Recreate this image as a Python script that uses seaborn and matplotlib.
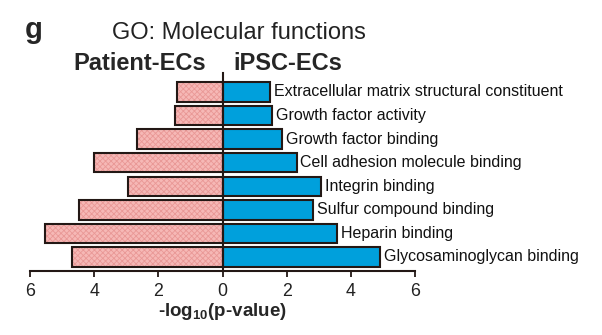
import matplotlib
matplotlib.use("Agg")
import matplotlib.pyplot as plt
import seaborn as sns
import pandas as pd
import numpy as np

categories = [
    "Extracellular matrix structural constituent",
    "Growth factor activity",
    "Growth factor binding",
    "Cell adhesion molecule binding",
    "Integrin binding",
    "Sulfur compound binding",
    "Heparin binding",
    "Glycosaminoglycan binding",
]
patient_ecs = [1.43, 1.47, 2.67, 4.01, 2.96, 4.46, 5.53, 4.69]
ipsc_ecs = [1.49, 1.54, 1.85, 2.31, 3.07, 2.81, 3.56, 4.92]
xticks = [-6, -4, -2, 0, 2, 4, 6]
xticklabels = ["6", "4", "2", "0", "2", "4", "6"]

sns.set_style("white")
plt.rcParams["font.family"] = ["Liberation Sans", "DejaVu Sans"]
plt.rcParams["hatch.linewidth"] = 0.6
plt.rcParams["mathtext.fontset"] = "custom"
plt.rcParams["mathtext.rm"] = "Liberation Sans:bold"
plt.rcParams["mathtext.it"] = "Liberation Sans:bold"
plt.rcParams["mathtext.default"] = "rm"

W, H = 602, 335
fig = plt.figure(figsize=(W / 100, H / 100), dpi=100)
ax = fig.add_axes([30 / W, 1 - 271 / H, (415 - 30) / W, (271 - 73) / H])

df = pd.DataFrame({"cat": categories,
                   "patient": [-v for v in patient_ecs],
                   "ipsc": ipsc_ecs})

edge = "#231815"
pink = "#f6b8b6"
blue = "#00a0dc"
bw = 0.82

# pink hatched fill
sns.barplot(data=df, x="patient", y="cat", orient="h", ax=ax, color=pink,
            saturation=1, width=bw, linewidth=0, edgecolor="#e99896",
            hatch="xxxxxx")
# dark outline for pink
sns.barplot(data=df, x="patient", y="cat", orient="h", ax=ax, fill=False,
            width=bw, linewidth=1.5, edgecolor=edge, color=edge)
# blue bars
sns.barplot(data=df, x="ipsc", y="cat", orient="h", ax=ax, color=blue,
            saturation=1, width=bw, linewidth=1.5, edgecolor=edge)

for i, (c, v) in enumerate(zip(categories, ipsc_ecs)):
    ax.text(v + 0.12, i, c, va="center", ha="left", fontsize=11.5,
            color="#111111")

ax.set_xlim(-6, 6)
ax.set_ylim(7.594, -0.806)
ax.set_xticks(xticks)
ax.set_xticklabels(xticklabels, fontsize=12.8, color="#222222")
ax.set_yticks([])
ax.set_ylabel("")
ax.set_xlabel("-log$_{10}$(p-value)", fontsize=13.5, fontweight="bold", labelpad=1)

for s in ["top", "right"]:
    ax.spines[s].set_visible(False)
ax.spines["left"].set_position(("data", 0))
ax.spines["left"].set_color(edge)
ax.spines["left"].set_linewidth(1.5)
ax.spines["bottom"].set_color(edge)
ax.spines["bottom"].set_linewidth(1.5)
ax.tick_params(axis="x", direction="out", length=4, width=1.3, color=edge,
               bottom=True, pad=4.5)

fig.text(25 / W, 1 - 30 / H, "g", fontsize=21, fontweight="bold", va="center", ha="left")
fig.text(112 / W, 1 - 33 / H, "GO: Molecular functions", fontsize=17,
         va="center", ha="left", color="#222222")
fig.text(73 / W, 1 - 63 / H, "Patient-ECs", fontsize=17, fontweight="bold",
         va="center", ha="left")
fig.text(233 / W, 1 - 63 / H, "iPSC-ECs", fontsize=17, fontweight="bold",
         va="center", ha="left")

fig.savefig("out.png", dpi=100)
